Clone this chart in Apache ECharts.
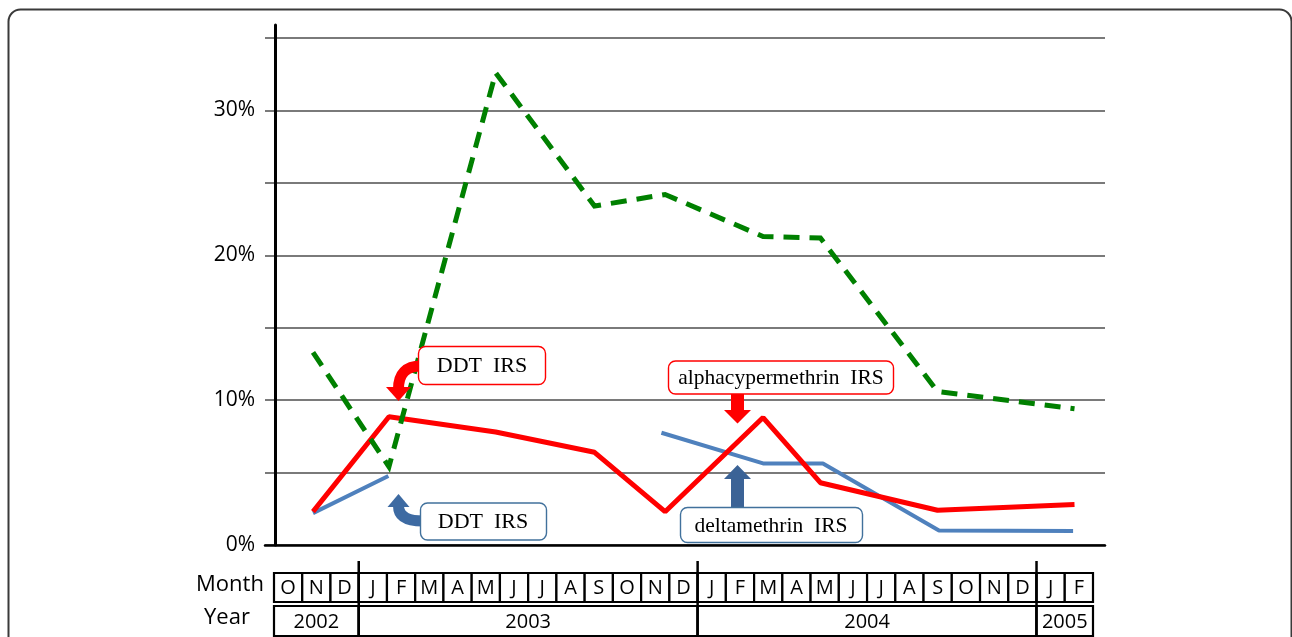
<!DOCTYPE html>
<html><head><meta charset="utf-8">
<script src="https://cdn.jsdelivr.net/npm/echarts@6/dist/echarts.min.js"></script>
<style>html,body{margin:0;padding:0;background:#fff}#c{width:1292px;height:637px}</style>
</head><body><div id="c"></div>
<script>
// ---- data ----
const months = ['O','N','D','J','F','M','A','M','J','J','A','S','O','N','D','J','F','M','A','M','J','J','A','S','O','N','D','J','F'];
const years = ['2002','2003','2004','2005'];
const yearMonths = [3, 12, 12, 2];
// survey positions, in month index (0 = Oct 2002)
const surveyX = [0.88, 3.57, 7.35, 10.85, 13.35, 16.82, 18.85, 23.0, 27.85];
const greenValues = [13.3, 5.4, 32.6, 23.4, 24.2, 21.3, 21.2, 10.6, 9.4];
const redValues = [2.3, 8.85, 7.8, 6.4, 2.3, 8.8, 4.3, 2.4, 2.8];
const blueX = [0.88, 3.55, null, 13.22, 16.82, 18.94, 23.05, 27.8];
const blueValues = [2.2, 4.76, null, 7.75, 5.63, 5.63, 1.0, 0.97];
const yTickLabels = [0, 10, 20, 30];

const pairs = (xs, ys) => xs.map((x, i) => (x === null ? [8, '-'] : [x, ys[i]]));

// year spans
const yearSpans = [];
let acc = -0.5;
yearMonths.forEach((n, i) => { yearSpans.push([acc, acc + n, i]); acc += n; });

const chart = echarts.init(document.getElementById('c'), null, {renderer: 'canvas'});
const serif = 'Liberation Serif';
const sans = 'Open Sans';

const option = {
  animation: false,
  backgroundColor: '#fff',
  grid: [
    {left: 265, right: 187, top: 25, bottom: 92},
    {left: 274, right: 199, top: 573, height: 29},
    {left: 274, right: 199, top: 606, height: 30}
  ],
  xAxis: [
    {type: 'value', gridIndex: 0, min: -0.82, max: 28.93,
     axisLine: {show: true, onZero: true, lineStyle: {color: '#000', width: 2.5}},
     axisTick: {show: false}, axisLabel: {show: false}, splitLine: {show: false}},
    {type: 'category', gridIndex: 1, data: months, show: false},
    {type: 'value', gridIndex: 2, min: -0.5, max: 28.5, show: false}
  ],
  yAxis: [
    {type: 'value', gridIndex: 0, min: 0, max: 35.9, interval: 5, offset: -10,
     axisLine: {show: true, onZero: false, lineStyle: {color: '#000', width: 3}},
     axisTick: {show: false},
     axisLabel: {margin: 20, color: '#000', fontFamily: sans, fontSize: 21,
       formatter: v => (yTickLabels.indexOf(v) >= 0 ? v + '%' : ''),
       showMaxLabel: false},
     splitLine: {show: true, showMaxLine: false, lineStyle: {color: '#7a7a7a', width: 1.8}}},
    {type: 'value', gridIndex: 1, min: 0, max: 1, show: false},
    {type: 'value', gridIndex: 2, min: 0, max: 1, show: false}
  ],
  series: [
    {type: 'line', name: 'blue', xAxisIndex: 0, yAxisIndex: 0, data: pairs(blueX, blueValues),
     symbol: 'none', connectNulls: false, z: 3,
     lineStyle: {color: '#4f81bd', width: 4}},
    {type: 'line', name: 'red', xAxisIndex: 0, yAxisIndex: 0, data: pairs(surveyX, redValues),
     symbol: 'none', z: 4,
     lineStyle: {color: '#ff0000', width: 5}},
    {type: 'line', name: 'green', xAxisIndex: 0, yAxisIndex: 0, data: pairs(surveyX, greenValues),
     symbol: 'none', z: 5,
     lineStyle: {color: '#008000', width: 5, type: [16, 10], cap: 'butt', join: 'miter'}},
    {type: 'custom', name: 'months', xAxisIndex: 1, yAxisIndex: 1, z: 2,
     data: months.map((m, i) => [i, 0.5]),
     renderItem: (params, api) => {
       const idx = api.value(0);
       const c = api.coord([idx, 0.5]);
       const w = api.size([1, 0])[0];
       const cs = params.coordSys;
       return {type: 'group', children: [
         {type: 'rect', shape: {x: c[0] - w / 2, y: cs.y, width: w, height: cs.height},
          style: {fill: '#fff', stroke: '#000', lineWidth: 2.2}},
         {type: 'text', style: {text: months[idx], x: c[0], y: cs.y + cs.height / 2 + 1,
          align: 'center', verticalAlign: 'middle', fontFamily: sans, fontSize: 20, fill: '#000'}}
       ]};
     }},
    {type: 'custom', name: 'years', xAxisIndex: 2, yAxisIndex: 2, z: 3,
     data: yearSpans,
     renderItem: (params, api) => {
       const s = api.value(0), e = api.value(1), i = api.value(2);
       const x0 = api.coord([s, 0])[0], x1 = api.coord([e, 0])[0];
       const cs = params.coordSys;
       const children = [
         {type: 'rect', shape: {x: x0, y: cs.y, width: x1 - x0, height: cs.height},
          style: {fill: '#fff', stroke: '#000', lineWidth: 2.2}},
         {type: 'text', style: {text: years[i], x: (x0 + x1) / 2, y: cs.y + cs.height / 2 + 1,
          align: 'center', verticalAlign: 'middle', fontFamily: sans, fontSize: 20, fill: '#000'}}
       ];
       if (i > 0) {
         children.push({type: 'line', shape: {x1: x0, y1: cs.y - 45, x2: x0, y2: cs.y + cs.height},
           style: {stroke: '#000', lineWidth: 2.5}});
       }
       return {type: 'group', children};
     }}
  ],
  graphic: [
    {type: 'rect', z: 0, shape: {x: 8.5, y: 9.5, width: 1283, height: 700, r: 12},
     style: {fill: 'none', stroke: '#3a3a3a', lineWidth: 2}},
    {type: 'text', style: {text: 'Month', x: 230, y: 585, align: 'center', verticalAlign: 'middle',
      fontFamily: sans, fontSize: 22, fill: '#000'}},
    {type: 'text', style: {text: 'Year', x: 227, y: 618, align: 'center', verticalAlign: 'middle',
      fontFamily: sans, fontSize: 22, fill: '#000'}},
    // red DDT IRS
    {type: 'bezierCurve', z: 10, shape: {x1: 421, y1: 366, x2: 398.5, y2: 389, cpx1: 398.5, cpy1: 366},
     style: {fill: 'none', stroke: '#ff0000', lineWidth: 11}},
    {type: 'polygon', z: 10, shape: {points: [[386, 387], [411, 387], [398.5, 401]]}, style: {fill: '#ff0000'}},
    {type: 'rect', z: 11, shape: {x: 418.5, y: 346.5, width: 127, height: 38, r: 7},
     style: {fill: '#fff', stroke: '#ff0000', lineWidth: 1.4}},
    {type: 'text', z: 12, style: {text: 'DDT  IRS', x: 482, y: 366, align: 'center', verticalAlign: 'middle',
      fontFamily: serif, fontSize: 22, fill: '#000'}},
    // blue DDT IRS
    {type: 'bezierCurve', z: 10, shape: {x1: 423, y1: 521, x2: 398.5, y2: 506, cpx1: 398.5, cpy1: 521},
     style: {fill: 'none', stroke: '#3d6aa2', lineWidth: 11}},
    {type: 'polygon', z: 10, shape: {points: [[387.5, 507], [409.5, 507], [398.5, 494]]}, style: {fill: '#3d6aa2'}},
    {type: 'rect', z: 11, shape: {x: 420.5, y: 503, width: 126, height: 37, r: 7},
     style: {fill: '#fff', stroke: '#41719c', lineWidth: 1.4}},
    {type: 'text', z: 12, style: {text: 'DDT  IRS', x: 483, y: 522, align: 'center', verticalAlign: 'middle',
      fontFamily: serif, fontSize: 22, fill: '#000'}},
    // alphacypermethrin
    {type: 'polygon', z: 10, shape: {points: [[731, 393], [744, 393], [744, 410], [751, 410], [737.5, 423.5], [724, 410], [731, 410]]},
     style: {fill: '#ff0000'}},
    {type: 'rect', z: 11, shape: {x: 668.5, y: 361, width: 225, height: 33, r: 7},
     style: {fill: '#fff', stroke: '#ff0000', lineWidth: 1.4}},
    {type: 'text', z: 12, style: {text: 'alphacypermethrin  IRS', x: 781, y: 378, align: 'center', verticalAlign: 'middle',
      fontFamily: serif, fontSize: 21.5, fill: '#000'}},
    // deltamethrin
    {type: 'polygon', z: 10, shape: {points: [[731, 509], [744, 509], [744, 479], [751, 479], [737.5, 465], [724, 479], [731, 479]]},
     style: {fill: '#3b6396'}},
    {type: 'rect', z: 11, shape: {x: 680.5, y: 507.5, width: 182, height: 35, r: 7},
     style: {fill: '#fff', stroke: '#41719c', lineWidth: 1.4}},
    {type: 'text', z: 12, style: {text: 'deltamethrin  IRS', x: 771, y: 526, align: 'center', verticalAlign: 'middle',
      fontFamily: serif, fontSize: 21.5, fill: '#000'}}
  ]
};
chart.setOption(option);
</script>
</body></html>
